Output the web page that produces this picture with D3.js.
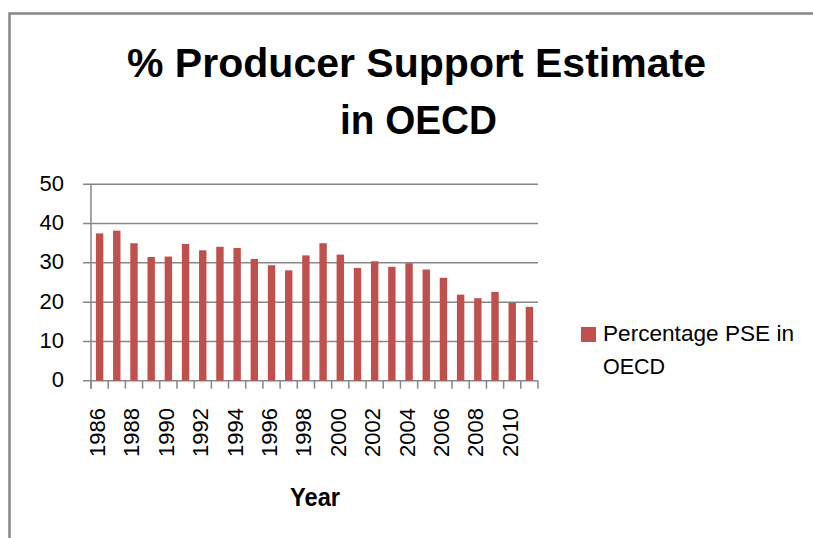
<!DOCTYPE html>
<html>
<head>
<meta charset="utf-8">
<script src="https://cdn.jsdelivr.net/npm/d3@7"></script>
<style>
  html, body { margin: 0; padding: 0; background: #fff; }
  svg { display: block; }
  text { font-family: "Liberation Sans", Arial, sans-serif; fill: #000; }
</style>
</head>
<body>
<svg id="chart" width="813" height="538"></svg>
<script>
// ---- data ----
const years = [1986,1987,1988,1989,1990,1991,1992,1993,1994,1995,1996,1997,1998,1999,2000,2001,2002,2003,2004,2005,2006,2007,2008,2009,2010,2011];
const pseValues = [37.5,38.2,35.0,31.5,31.6,34.8,33.2,34.1,33.8,31.0,29.4,28.1,31.9,35.0,32.1,28.7,30.4,29.0,29.9,28.3,26.2,21.9,21.0,22.6,19.8,18.8];
const yTicks = [0,10,20,30,40,50];
const xTickLabels = ["1986","1988","1990","1992","1994","1996","1998","2000","2002","2004","2006","2008","2010"];
const titleLines = ["% Producer Support Estimate", "in OECD"];
const seriesName = ["Percentage PSE in", "OECD"];
const xAxisTitle = "Year";

// ---- layout ----
const svg = d3.select("#chart");
const plot = { left: 91, right: 538, top: 184.3, bottom: 380.7 };
const barColor = "#C0504D";
const gridColor = "#878787";

// outer frame
svg.append("rect")
  .attr("x", 9.5).attr("y", 13.5)
  .attr("width", 830).attr("height", 560)
  .attr("fill", "none").attr("stroke", gridColor).attr("stroke-width", 2.5);

const x = d3.scaleBand().domain(years.map(String)).range([plot.left, plot.right]).padding(0);
const y = d3.scaleLinear().domain([0, 50]).range([plot.bottom, plot.top]);

// gridlines + y labels
const g = svg.append("g");
yTicks.forEach(t => {
  g.append("line")
    .attr("x1", plot.left - 8).attr("x2", plot.right)
    .attr("y1", y(t)).attr("y2", y(t))
    .attr("stroke", gridColor).attr("stroke-width", 1.5);
  g.append("text")
    .attr("x", 64).attr("y", y(t)).attr("dy", "0.3em")
    .attr("text-anchor", "end")
    .style("font-size", "22px")
    .text(t);
});

// y axis line
g.append("line")
  .attr("x1", plot.left).attr("x2", plot.left)
  .attr("y1", plot.top).attr("y2", plot.bottom + 8)
  .attr("stroke", gridColor).attr("stroke-width", 1.5);

// category ticks at band boundaries
const boundaries = years.map(d => x(String(d))).concat([plot.right]);
boundaries.forEach(bx => {
  g.append("line")
    .attr("x1", bx).attr("x2", bx)
    .attr("y1", plot.bottom).attr("y2", plot.bottom + 8)
    .attr("stroke", gridColor).attr("stroke-width", 1.5);
});

// bars
const barW = x.bandwidth() * 0.43;
svg.append("g").selectAll("rect")
  .data(years.map((yr, i) => ({ yr: String(yr), v: pseValues[i] })))
  .join("rect")
  .attr("x", d => x(d.yr) + (x.bandwidth() - barW) / 2)
  .attr("y", d => y(d.v))
  .attr("width", barW)
  .attr("height", d => y(0) - y(d.v))
  .attr("fill", barColor);

// x tick labels (rotated)
xTickLabels.forEach(lbl => {
  const cx = x(lbl) + x.bandwidth() / 2 + 5.5;
  svg.append("text")
    .attr("transform", `translate(${cx},408) rotate(-90)`)
    .attr("text-anchor", "end")
    .style("font-size", "22px")
    .text(lbl);
});

// x axis title
svg.append("text")
  .attr("x", 315).attr("y", 506)
  .attr("text-anchor", "middle")
  .style("font-size", "25px").style("font-weight", "bold")
  .attr("textLength", 50).attr("lengthAdjust", "spacingAndGlyphs")
  .text(xAxisTitle);

// title
svg.append("text")
  .attr("x", 416.5).attr("y", 77)
  .attr("text-anchor", "middle")
  .style("font-size", "40px").style("font-weight", "bold")
  .attr("textLength", 579).attr("lengthAdjust", "spacingAndGlyphs")
  .text(titleLines[0]);
svg.append("text")
  .attr("x", 418.5).attr("y", 134)
  .attr("text-anchor", "middle")
  .style("font-size", "40px").style("font-weight", "bold")
  .attr("textLength", 157).attr("lengthAdjust", "spacingAndGlyphs")
  .text(titleLines[1]);

// legend
svg.append("rect")
  .attr("x", 581).attr("y", 327).attr("width", 15).attr("height", 15)
  .attr("fill", barColor);
svg.append("text")
  .attr("x", 603).attr("y", 341)
  .style("font-size", "21.5px")
  .attr("textLength", 191).attr("lengthAdjust", "spacingAndGlyphs")
  .text(seriesName[0]);
svg.append("text")
  .attr("x", 603).attr("y", 374)
  .style("font-size", "21.5px")
  .text(seriesName[1]);
</script>
</body>
</html>
